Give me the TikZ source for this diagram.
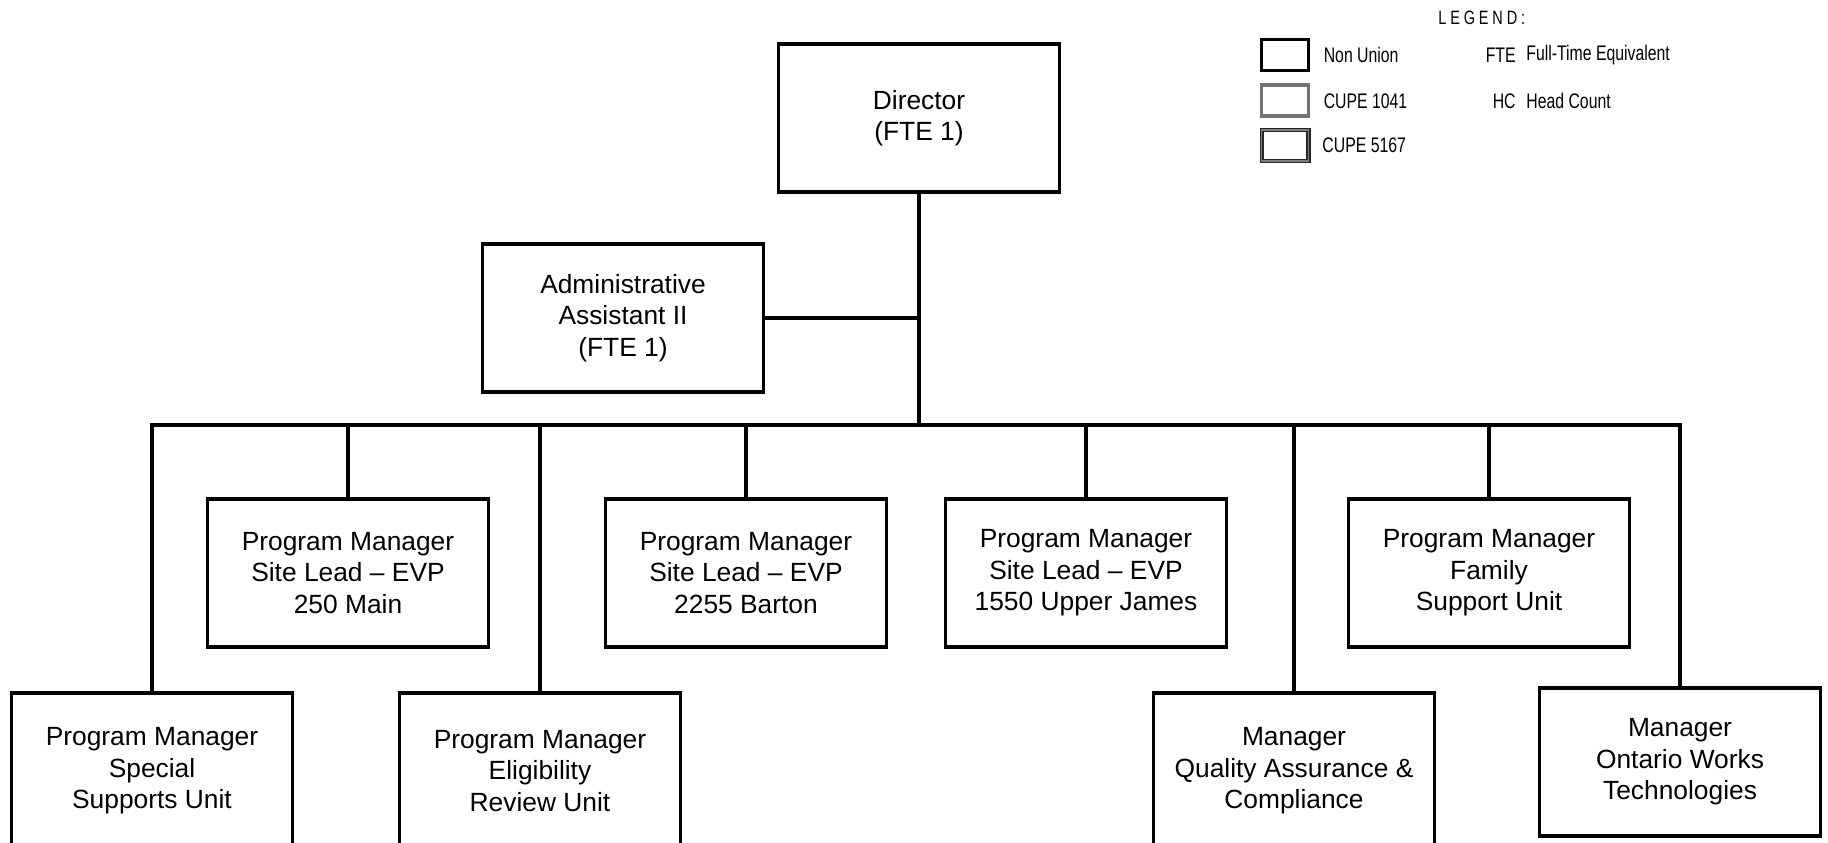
\documentclass[tikz,border=0pt]{standalone}
\usepackage{fontspec}
\setmainfont{Liberation Sans}
\newfontfamily\narrowfont[FakeStretch=0.75]{Liberation Sans}
\newfontfamily\spacedfont[FakeStretch=0.75,LetterSpace=20]{Liberation Sans}
\usetikzlibrary{positioning}
\tikzset{
job/.style={draw=black, line width=2.2pt, fill=white, align=center, minimum width=5.62cm, minimum height=2.96cm, font=\fontsize{15}{18}\selectfont}, % one box per position
lowjob/.style={job, minimum height=3.12cm}, % bottom row runs off the page
link/.style={line width=2.2pt, line join=miter}, % reporting lines
keybox/.style={minimum width=0.94cm, minimum height=0.62cm, inner sep=0pt}, % legend swatches
nonunion/.style={keybox, draw=black, line width=2.2pt},
cupeA/.style={keybox, draw=black!55, line width=2.2pt},
cupeB/.style={keybox, draw=black!85, double=black!50, double distance=0.9pt, line width=0.7pt},
keytext/.style={font=\narrowfont\fontsize{12}{14}\selectfont, inner sep=0pt},
heading/.style={font=\spacedfont\fontsize{11}{13}\selectfont, inner sep=0pt}
}
\begin{document}
\begin{tikzpicture}[x=0.02cm, y=-0.02cm, node distance=0.22cm and 0.26cm]
  \useasboundingbox (0,0) rectangle (1828,842);
  \path[clip] (0,0) rectangle (1828,842);

  % top
  \node[job] (director) at (919,118) {Director\\(FTE 1)};
  \node[job] (admin) at (623,318) {Administrative\\Assistant II\\(FTE 1)};
  \coordinate (bus) at (918,425);

  % middle row
  \node[job] (main250) at (348,573) {Program Manager\\Site Lead -- EVP\\250 Main};
  \node[job] (barton) at (746,573) {Program Manager\\Site Lead -- EVP\\2255 Barton};
  \node[job] (james) at (1086,573) {Program Manager\\Site Lead -- EVP\\1550 Upper James};
  \node[job] (family) at (1489,573) {Program Manager\\Family\\Support Unit};

  % bottom row
  \node[lowjob] (special) at (152,771) {Program Manager\\Special\\Supports Unit};
  \node[lowjob] (eligibility) at (540,771) {Program Manager\\Eligibility\\Review Unit};
  \node[lowjob] (quality) at (1294,771) {Manager\\Quality Assurance \&\\Compliance};
  \node[job] (ontario) at (1680,762) {Manager\\Ontario Works\\Technologies};

  % lines
  \draw[link] (director.south) -- (director.south |- bus);
  \draw[link] (admin.east) -- (admin.east -| director.south);
  \draw[link] (special.north) -- (special.north |- bus) -- (ontario.north |- bus) -- (ontario.north);
  \foreach \n in {main250, eligibility, barton, james, quality, family}
    \draw[link] (\n.north) -- (\n.north |- bus);

  % legend
  \node[heading, anchor=west] (legend) at (1438,18) {LEGEND:};
  \node[nonunion] (knon) at (1285,55) {};
  \node[cupeA, below=of knon] (k1041) {};
  \node[cupeB, below=of k1041] (k5167) {};
  \node[keytext, right=of knon] {Non Union};
  \node[keytext, right=of k1041] {CUPE 1041};
  \node[keytext, right=of k5167] {CUPE 5167};
  \node[keytext, anchor=east] (fte) at (1516,55) {FTE};
  \node[keytext, right=0.2cm of fte] {Full-Time Equivalent};
  \node[keytext, anchor=east] (hc) at (1516,101) {HC};
  \node[keytext, right=0.2cm of hc] {Head Count};
\end{tikzpicture}
\end{document}
